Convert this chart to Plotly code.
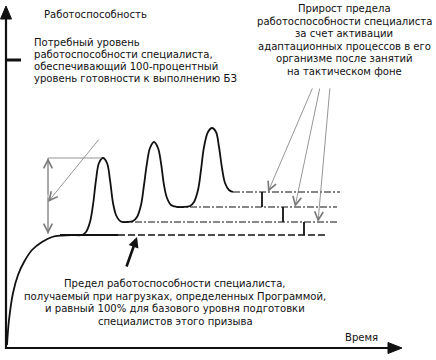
import plotly.graph_objects as go

W, H = 436, 360
FONT = "DejaVu Sans Condensed, DejaVu Sans, sans-serif"
INK = "#111111"
GRAY = "#7a7a7a"

# ---- main performance curve (pixel-space reading of the diagram) ----
curve_x = [7, 9, 13, 18, 24, 32, 42, 52, 62, 72, 82, 86, 90, 93, 96, 99, 103, 107, 110, 113, 116, 119, 122,
           127, 133, 137, 141, 144, 147, 150, 154, 158, 161, 164, 167, 171, 177,
           183, 190, 194, 198, 201, 204, 208, 212, 216, 219, 222, 225, 229, 233]
curve_y = [345, 320, 293, 275, 262, 250, 242, 237, 235.5, 235, 235, 232, 222, 205, 180, 163, 158, 163, 180, 203, 215, 220, 222,
           222, 221, 217, 205, 185, 163, 148, 142, 148, 163, 185, 198, 205, 207,
           207, 206, 202, 190, 170, 147, 132, 128, 132, 147, 168, 183, 190, 192]
base_solid_x = [60, 118]

# ---- plateau levels ----
level_y = [235, 222, 207, 192]
level_start = [118, 122, 177, 233]
level_end = [328, 337, 337, 340]

# ---- increments (vertical bars) ----
inc_x = [262, 283, 304]
inc_top = [192, 207, 222]
inc_bot = [207, 222, 235]

# ---- pointers from right text ----
ptr_tail_x = [313, 320, 330]
ptr_tail_y = [87, 87, 87]
ptr_head_x = [268, 295, 318]
ptr_head_y = [192, 207, 222]

# ---- left annotation ----
dbl_x = 48
dbl_top, dbl_bot = 158, 234
peak_line_x = [48, 102]
diag_tail = (100, 138)
diag_head = (48, 202)

# ---- bold arrow ----
bold_tail = (126, 268)
bold_head = (137, 237)

# ---- axes ----
yaxis_x = 6
yaxis_top, yaxis_bot = 17, 349
xaxis_y = 348
xaxis_left, xaxis_right = 5, 390
ytick_y = 60
ytick_x = [6, 21]
yarrow_x = [0.5, 6, 11.5, 0.5]
yarrow_y = [19, 6, 19, 19]
xarrow_x = [388, 402, 388, 388]
xarrow_y = [342.5, 348, 353.5, 342.5]

# ---- texts ----
title_txt = "Работоспособность"
left_lines = ["Потребный уровень", "работоспособности специалиста,",
              "обеспечивающий 100-процентный", "уровень готовности к выполнению БЗ"]
left_y = [42, 54, 66, 78]
right_lines = ["Прирост предела", "работоспособности специалиста", "за счет активации",
               "адаптационных процессов в его", "организме после занятий", "на тактическом фоне"]
right_y = [8, 21, 33, 46, 58.5, 71]
bottom_lines = ["Предел работоспособности специалиста,",
                "получаемый при нагрузках, определенных Программой,",
                "и равный 100% для базового уровня подготовки",
                "специалистов этого призыва"]
bottom_y = [283.5, 296, 308.5, 321]
xlabel_txt = "Время"

fig = go.Figure()

def seg(xs, ys, color=INK, width=1.5, dash="solid", shape="linear"):
    fig.add_trace(go.Scatter(x=xs, y=ys, mode="lines", hoverinfo="skip",
                             line=dict(color=color, width=width, dash=dash, shape=shape)))

# axes
seg([yaxis_x, yaxis_x], [yaxis_top, yaxis_bot], width=2.2)
seg([xaxis_left, xaxis_right], [xaxis_y, xaxis_y], width=2.2)
seg(ytick_x, [ytick_y, ytick_y], width=3)
for ax_, ay_ in [(yarrow_x, yarrow_y), (xarrow_x, xarrow_y)]:
    fig.add_trace(go.Scatter(x=ax_, y=ay_, mode="lines", fill="toself", fillcolor=INK,
                             line=dict(color=INK, width=1), hoverinfo="skip"))

# plateau lines
seg(base_solid_x, [level_y[0], level_y[0]], width=1.8)
seg([level_start[0], level_end[0]], [level_y[0], level_y[0]], width=1.6, dash="7px,3px")
for i in range(1, 4):
    seg([level_start[i], level_end[i]], [level_y[i], level_y[i]], width=1.1, dash="7px,2px,2px,2px")

# increments
for x, t, b in zip(inc_x, inc_top, inc_bot):
    seg([x, x], [t, b], width=1.8)

# main curve
seg(curve_x, curve_y, width=1.8, shape="spline")

# left annotation lines
seg([dbl_x, dbl_x], [dbl_top, dbl_bot], color=GRAY, width=0.8)
seg(peak_line_x, [dbl_top, dbl_top], color=GRAY, width=0.8)

def arrow(tail, head, color, width, head_style, size):
    fig.add_annotation(x=head[0], y=head[1], ax=tail[0], ay=tail[1],
                       xref="x", yref="y", axref="x", ayref="y", text="",
                       showarrow=True, arrowhead=head_style, arrowsize=size,
                       arrowwidth=width, arrowcolor=color)

arrow((dbl_x, (dbl_top + dbl_bot) / 2), (dbl_x, dbl_top), GRAY, 0.8, 5, 2.1)
arrow((dbl_x, (dbl_top + dbl_bot) / 2), (dbl_x, dbl_bot), GRAY, 0.8, 5, 2.1)
arrow(diag_tail, diag_head, GRAY, 0.8, 5, 2.1)
for tx, ty, hx, hy in zip(ptr_tail_x, ptr_tail_y, ptr_head_x, ptr_head_y):
    arrow((tx, ty), (hx, hy), GRAY, 0.8, 5, 2.1)
arrow(bold_tail, bold_head, INK, 2.6, 2, 0.8)

# texts
def txt(s, x, y, anchor="left", size=11.2):
    fig.add_annotation(x=x, y=y, xref="x", yref="y", text=s, showarrow=False,
                       xanchor=anchor, yanchor="middle",
                       font=dict(family=FONT, size=size, color=INK))

txt(title_txt, 42, 14)
for s, y in zip(left_lines, left_y):
    txt(s, 32, y)
for s, y in zip(right_lines, right_y):
    txt(s, 344, y, anchor="center")
for s, y in zip(bottom_lines, bottom_y):
    txt(s, 175, y, anchor="center")
txt(xlabel_txt, 361, 337, anchor="center")

fig.update_layout(width=W, height=H, margin=dict(l=0, r=0, t=0, b=0),
                  paper_bgcolor="white", plot_bgcolor="white", showlegend=False,
                  xaxis=dict(range=[0, W], visible=False, fixedrange=True),
                  yaxis=dict(range=[H, 0], visible=False, fixedrange=True))

fig.write_html("out.html", config={"displayModeBar": False},
               post_script="document.body.style.margin='0px';")
